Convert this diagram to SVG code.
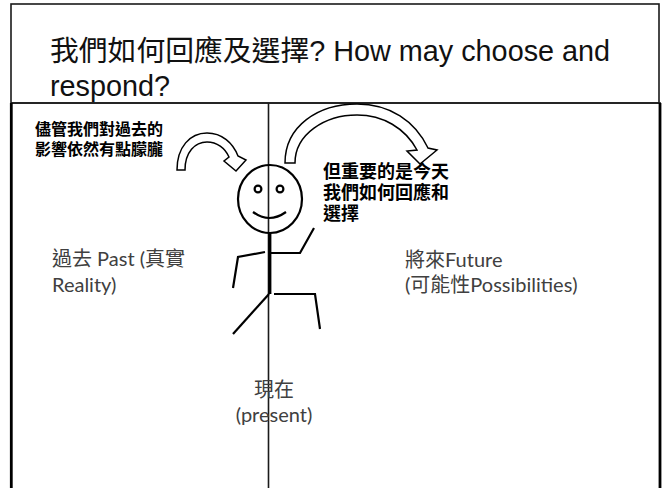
<svg xmlns="http://www.w3.org/2000/svg" width="665" height="488" viewBox="0 0 665 488">
  <style>
    .title { font-family: "Liberation Sans", "Noto Sans CJK TC", sans-serif; font-size: 28.8px; fill: #111; }
    .bold { font-family: "Noto Sans CJK TC", sans-serif; font-weight: 700; fill: #000; }
    .gray { font-family: "Lato", "Noto Sans CJK TC", sans-serif; font-size: 20px; fill: #404040; }
    .frame { fill: none; stroke: #1a1a1a; stroke-width: 1.6; }
    .edge { fill: none; stroke: #000; stroke-width: 2.8; }
    .stick { fill: none; stroke: #000; stroke-width: 2.2; stroke-linecap: butt; stroke-linejoin: miter; }
    .arrow { fill: #fff; stroke: #000; stroke-width: 1.5; stroke-linejoin: miter; }
  </style>

  <rect width="665" height="488" fill="#fff"/>

  <!-- title box -->
  <g id="title">
    <rect class="frame" x="11" y="4" width="648" height="99"/>
    <text class="title" x="50" y="61">我們如何回應及選擇? How may choose and</text>
    <text class="title" x="50" y="96">respond?</text>
  </g>

  <!-- lower panel with timeline divider -->
  <g id="panel">
    <line class="frame" x1="11" y1="103" x2="661" y2="103"/>
    <line class="edge" x1="11.3" y1="103" x2="11.3" y2="490"/>
    <line class="edge" x1="660" y1="103" x2="660" y2="490"/>
    <line class="frame" x1="268.5" y1="103" x2="268.5" y2="490"/>
  </g>

  <!-- stick figure standing on the present -->
  <g id="figure">
    <ellipse class="stick" cx="270" cy="199" rx="32" ry="34" fill="#fff"/>
    <circle class="stick" cx="258" cy="189" r="3.4" stroke-width="1.8"/>
    <circle class="stick" cx="280" cy="189" r="3.4" stroke-width="1.8"/>
    <path class="stick" d="M253,212 Q269,224 286,212"/>
    <line x1="269.8" y1="233" x2="269.8" y2="294" stroke="#000" stroke-width="3.2"/>
    <polyline class="stick" points="265,252 238,257 233,288"/>
    <polyline class="stick" points="270,253 300,253 314,228"/>
    <line class="stick" x1="269" y1="294" x2="233" y2="334"/>
    <polyline class="stick" points="274,294 315,294 320,329"/>
  </g>

  <!-- curved block arrows -->
  <g id="connectors">
    <path class="arrow" d="M177,170 C177,147 190,133 207,133 C222,133 233,143 238,156 L246,160 L236,171 L224,161 L229,157 C225,148 217,142 207,142 C195,142 185,152 185,170 Z"/>
    <path class="arrow" d="M285,163 C285,126 318,104 357,104 C390,104 415,121 428,148 L437,150 L420,164 L407,151 L417,150 C405,128 383,115 357,115 C325,115 295,134 295,163 Z"/>
  </g>

  <g id="note-past">
    <text class="bold" font-size="16"><tspan x="35" y="135">儘管我們對過去的</tspan><tspan x="35" y="155">影響依然有點朦朧</tspan></text>
  </g>

  <g id="note-today">
    <text class="bold" font-size="18"><tspan x="323" y="178">但重要的是今天</tspan><tspan x="323" y="199">我們如何回應和</tspan><tspan x="323" y="220">選擇</tspan></text>
  </g>

  <g id="past">
    <text class="gray" x="52" y="266">過去 Past (真實</text>
    <text class="gray" x="52" y="292">Reality)</text>
  </g>

  <g id="future">
    <text class="gray" x="405" y="267">將來Future</text>
    <text class="gray" x="405" y="292">(可能性Possibilities)</text>
  </g>

  <g id="present">
    <text class="gray" x="274" y="397" text-anchor="middle">現在</text>
    <text class="gray" x="274" y="422" text-anchor="middle">(present)</text>
  </g>
</svg>
